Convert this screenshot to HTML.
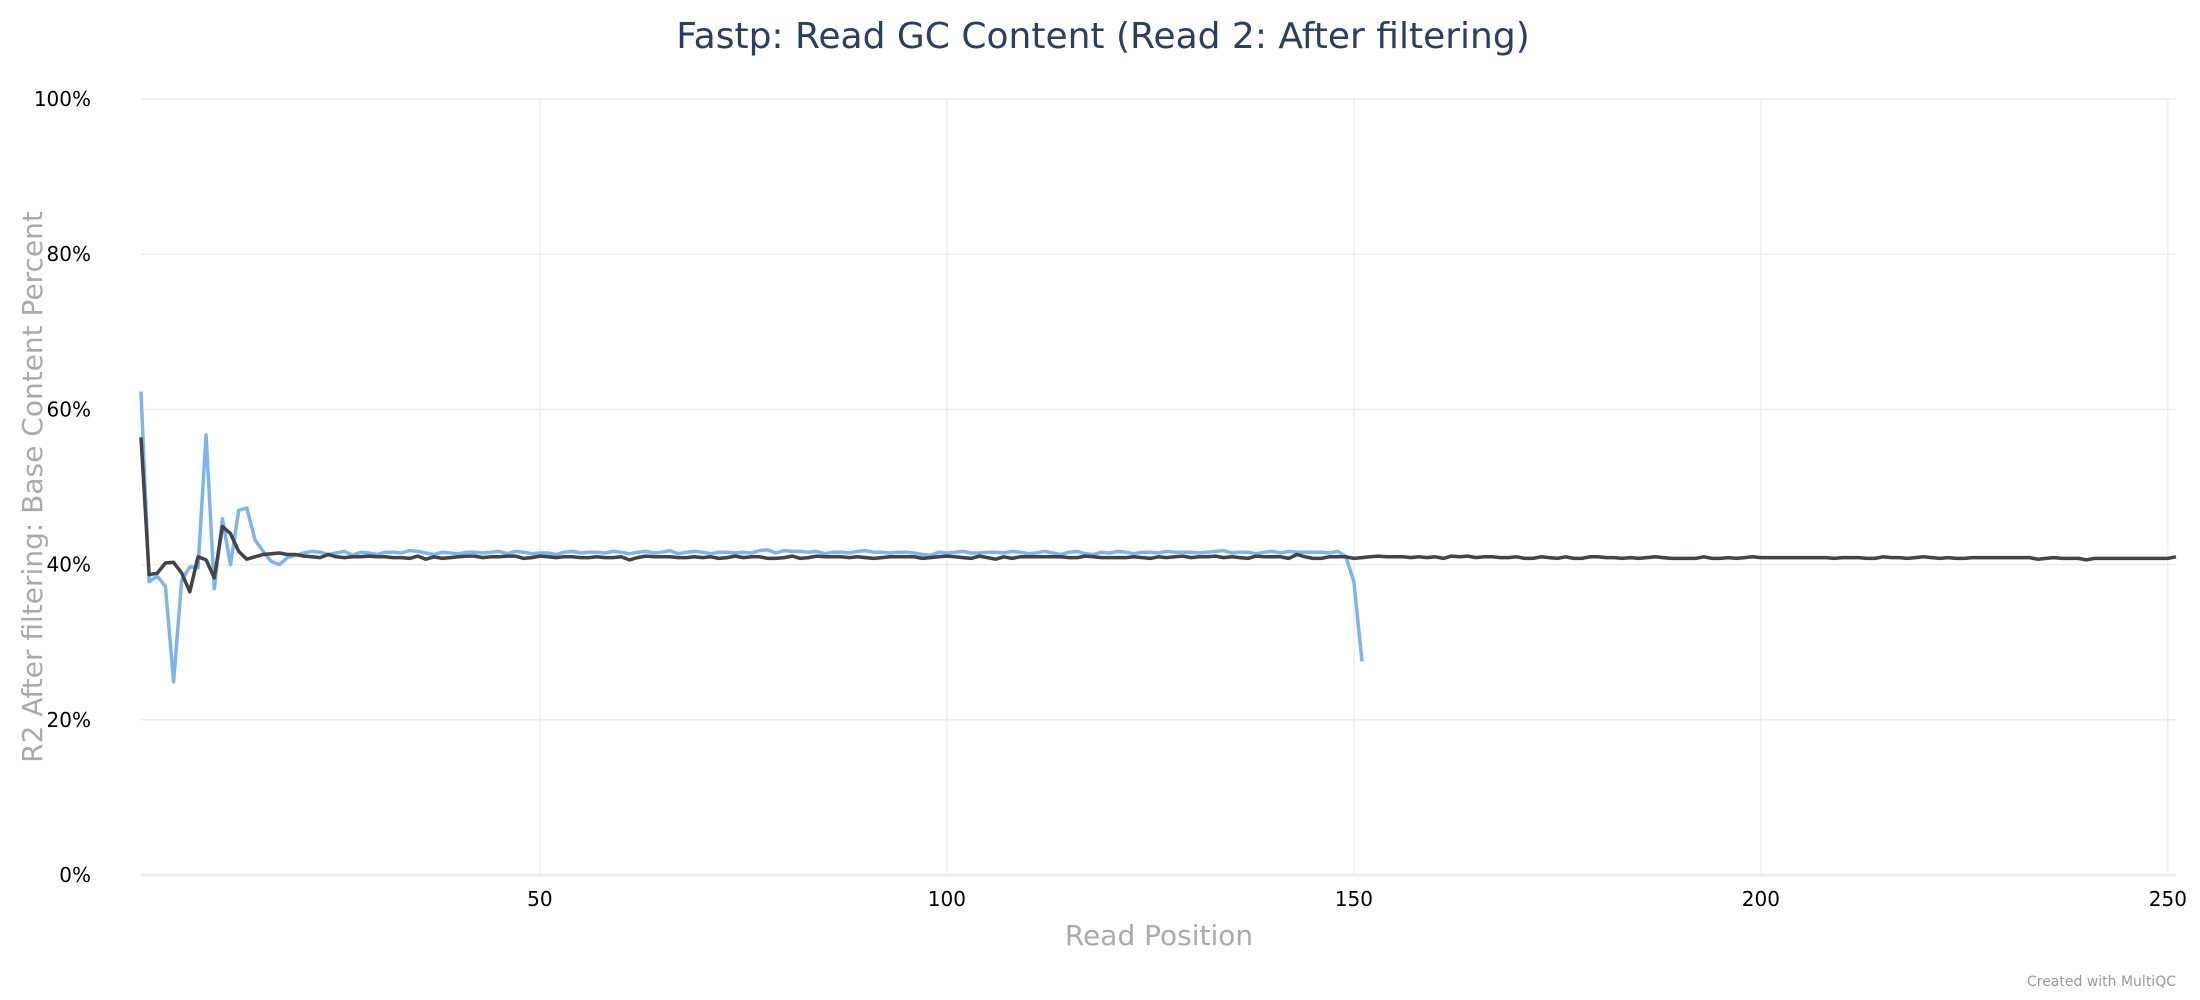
<!DOCTYPE html>
<html><head><meta charset="utf-8"><style>
html,body{margin:0;padding:0;background:#fff;}
svg{display:block;font-family:"DejaVu Sans","Liberation Sans",sans-serif;}
</style></head><body>
<svg id="chart" width="2200" height="1000">
<text x="1103" y="48" text-anchor="middle" font-size="36" fill="#2a3f5f">Fastp: Read GC Content (Read 2: After filtering)</text>
<g id="grid"></g>
<g id="yticks"></g>
<g id="xticks"></g>
<g id="series"></g>
<text transform="translate(42,487) rotate(-90)" text-anchor="middle" font-size="28" fill="#aaaaaa">R2 After filtering: Base Content Percent</text>
<text x="1159" y="945" text-anchor="middle" font-size="28" fill="#aaaaaa">Read Position</text>
<text x="2176" y="986" text-anchor="end" font-size="14" fill="#999999">Created with MultiQC</text>
</svg>
<script>
const yTicks=[0,20,40,60,80,100];
const xTicks=[50,100,150,200,250];
const sampleA=[62.3,37.8,38.5,37.2,24.9,38.0,39.7,39.6,56.7,36.9,45.9,40.0,47.0,47.3,43.2,41.7,40.4,40.0,40.9,41.2,41.5,41.7,41.6,41.3,41.5,41.7,41.2,41.6,41.5,41.3,41.6,41.6,41.5,41.8,41.7,41.5,41.3,41.6,41.5,41.4,41.6,41.6,41.5,41.6,41.7,41.4,41.7,41.6,41.4,41.5,41.5,41.3,41.6,41.7,41.5,41.6,41.6,41.5,41.7,41.6,41.4,41.6,41.7,41.5,41.6,41.8,41.4,41.6,41.7,41.6,41.4,41.6,41.6,41.5,41.6,41.5,41.8,41.9,41.5,41.8,41.7,41.7,41.6,41.7,41.4,41.6,41.6,41.5,41.7,41.8,41.6,41.6,41.5,41.6,41.6,41.5,41.3,41.2,41.6,41.5,41.6,41.7,41.5,41.5,41.6,41.6,41.5,41.7,41.6,41.4,41.5,41.7,41.5,41.3,41.6,41.7,41.4,41.3,41.6,41.5,41.7,41.6,41.4,41.6,41.6,41.5,41.7,41.6,41.6,41.6,41.5,41.6,41.7,41.8,41.5,41.6,41.6,41.4,41.6,41.7,41.5,41.7,41.6,41.6,41.6,41.6,41.5,41.7,41.1,37.8,27.5];
const sampleB=[56.4,38.7,38.9,40.2,40.3,38.9,36.5,41.0,40.6,38.3,44.9,44.0,41.7,40.7,41.0,41.3,41.4,41.5,41.3,41.3,41.1,41.0,40.9,41.3,41.0,40.9,41.0,41.0,41.1,41.0,41.0,40.9,40.9,40.8,41.1,40.7,41.0,40.8,40.9,41.0,41.1,41.1,40.9,41.0,41.0,41.1,41.1,40.8,40.9,41.1,41.0,40.9,41.0,41.0,40.9,40.9,41.0,40.9,40.9,41.0,40.6,40.9,41.1,41.0,41.0,41.0,40.9,40.9,41.0,40.9,41.0,40.8,40.9,41.1,40.9,41.0,41.0,40.8,40.8,40.9,41.1,40.8,40.9,41.1,41.0,41.0,41.0,40.9,41.0,40.9,40.8,40.9,41.0,41.0,41.0,41.0,40.8,40.9,41.0,41.1,41.0,40.9,40.8,41.1,40.9,40.7,41.0,40.8,41.0,41.0,41.0,41.0,41.0,41.0,40.9,40.9,41.1,41.0,40.9,40.9,40.9,40.9,41.0,40.9,40.8,41.0,40.9,41.0,41.1,40.9,41.0,41.0,41.1,40.9,41.0,40.9,40.8,41.1,41.0,41.0,41.0,40.8,41.3,41.0,40.8,40.8,41.0,41.0,41.0,40.8,40.9,41.0,41.1,41.0,41.0,41.0,40.9,41.0,40.9,41.0,40.8,41.1,41.0,41.1,40.9,41.0,41.0,40.9,40.9,41.0,40.8,40.8,41.0,40.9,40.8,41.0,40.8,40.8,41.0,41.0,40.9,40.9,40.8,40.9,40.8,40.9,41.0,40.9,40.8,40.8,40.8,40.8,41.0,40.8,40.8,40.9,40.8,40.9,41.0,40.9,40.9,40.9,40.9,40.9,40.9,40.9,40.9,40.9,40.8,40.9,40.9,40.9,40.8,40.8,41.0,40.9,40.9,40.8,40.9,41.0,40.9,40.8,40.9,40.8,40.8,40.9,40.9,40.9,40.9,40.9,40.9,40.9,40.9,40.7,40.8,40.9,40.8,40.8,40.8,40.6,40.8,40.8,40.8,40.8,40.8,40.8,40.8,40.8,40.8,40.8,41.0];
const NS='http://www.w3.org/2000/svg';
const X0=141,X1=2176,XMIN=1,XMAX=251,Y0=875,Y1=99;
function sx(v){return X0+(v-XMIN)/(XMAX-XMIN)*(X1-X0);}
function sy(v){return Y0-(v/100)*(Y0-Y1);}
function mk(tag,attrs,parent){const e=document.createElementNS(NS,tag);for(const k in attrs)e.setAttribute(k,attrs[k]);parent.appendChild(e);return e;}
const grid=document.getElementById('grid'),yt=document.getElementById('yticks'),xt=document.getElementById('xticks'),ser=document.getElementById('series');
yTicks.forEach(v=>{
  const l=mk('line',{x1:X0,x2:X1,y1:sy(v),y2:sy(v),stroke:'#eeeeee','stroke-width':v===0?3:1.5},grid);
  
  
  const t=mk('text',{x:91,y:sy(v)+7,'text-anchor':'end','font-size':20,fill:'#000'},yt);
  t.textContent=v+'%';
  
  
});
xTicks.forEach(v=>{
  const l=mk('line',{x1:sx(v),x2:sx(v),y1:Y1,y2:Y0,stroke:'#eeeeee','stroke-width':1.5},grid);
  
  
  const t=mk('text',{x:sx(v),y:906,'text-anchor':'middle','font-size':20,fill:'#000'},xt);
  t.textContent=v;
  
  
});
function line(arr,color,name){
  const d=arr.map((v,i)=>(i?'L':'M')+sx(i+1).toFixed(1)+','+sy(v).toFixed(1)).join('');
  const p=mk('path',{d:d,fill:'none',stroke:color,'stroke-width':3.5,'stroke-linejoin':'round'},ser);
  
  
}
line(sampleA,'#7cb5ec','series-line-sample-a');
line(sampleB,'#434348','series-line-sample-b');
</script>
</body></html>
